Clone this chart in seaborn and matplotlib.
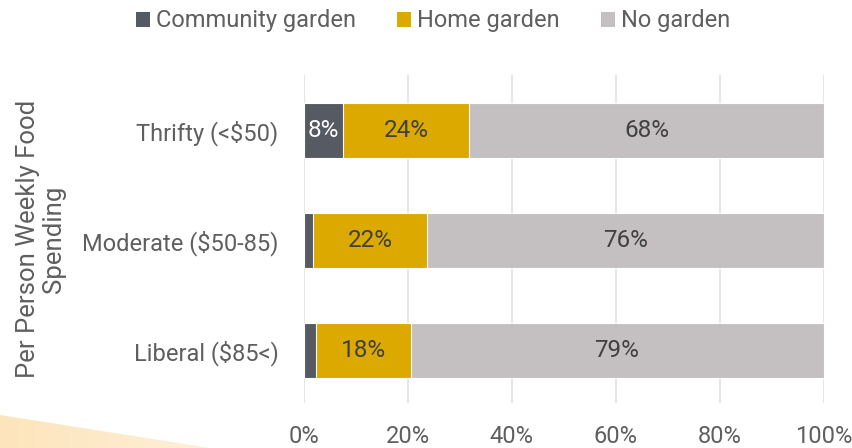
import numpy as np
import pandas as pd
import matplotlib
matplotlib.use("Agg")
import matplotlib.pyplot as plt
from matplotlib.patches import Polygon
from matplotlib.colors import LinearSegmentedColormap
import seaborn as sns

categories = ["Thrifty (<$50)", "Moderate ($50-85)", "Liberal ($85<)"]
community = [7.6, 1.9, 2.4]
home = [24.3, 21.8, 18.2]
no_garden = [68.1, 76.3, 79.4]
series_names = ["Community garden", "Home garden", "No garden"]
colors = ["#555a63", "#dba900", "#c4bfc0"]
xticks = [0, 20, 40, 60, 80, 100]

sns.set_theme(style="white")
plt.rcParams["font.family"] = ["Roboto", "DejaVu Sans"]
text_color = "#5f5f5f"

df = pd.DataFrame({"category": categories,
                   "Community garden": community,
                   "Home garden": home,
                   "No garden": no_garden})
df["cum1"] = df["Community garden"]
df["cum2"] = df["cum1"] + df["Home garden"]
df["cum3"] = df["cum2"] + df["No garden"]

fig = plt.figure(figsize=(8.52, 4.48), dpi=100)

# decorative wedge in the lower-left corner
bg = fig.add_axes([0, 0, 1, 1], zorder=-5)
bg.set_xlim(0, 852)
bg.set_ylim(448, 0)
bg.axis("off")
grad = np.linspace(0, 1, 256).reshape(1, -1)
cmap = LinearSegmentedColormap.from_list("peach", ["#fde4bb", "#fff0d8"])
im = bg.imshow(grad, cmap=cmap, extent=[0, 215, 448, 414], aspect="auto")
wedge = Polygon([[0, 415], [210, 448], [0, 448]], closed=True,
                facecolor="none", edgecolor="none")
bg.add_patch(wedge)
im.set_clip_path(wedge)

ax = fig.add_axes([303.5 / 852, 1 - 403 / 448, 520 / 852, 328 / 448])

# stacked bars drawn back to front from cumulative totals
for col, color in zip(["cum3", "cum2", "cum1"], colors[::-1]):
    sns.barplot(data=df, x=col, y="category", orient="h", color=color,
                width=0.5, edgecolor="white", linewidth=0.8,
                saturation=1, ax=ax, zorder=3)

# value labels
starts = [np.zeros(3), df["cum1"].values, df["cum2"].values]
vals = [df["Community garden"].values, df["Home garden"].values,
        df["No garden"].values]
for s, (st, v) in enumerate(zip(starts, vals)):
    for i in range(3):
        if v[i] < 5:
            continue
        ax.text(st[i] + v[i] / 2, i, f"{v[i]:.0f}%", ha="center",
                va="center", fontsize=17.5,
                color="white" if s == 0 else "#404040", zorder=5)

ax.set_xlim(0, 100)
ax.set_ylim(2.48, -0.5)
ax.set_xticks(xticks)
ax.set_xticklabels([f"{t}%" for t in xticks])
ax.grid(axis="x", color="#e6e6e6", linewidth=1.5, zorder=0)
ax.set_axisbelow(True)
for sp in ax.spines.values():
    sp.set_visible(False)
ax.tick_params(axis="both", length=0, labelsize=17, colors=text_color)
ax.tick_params(axis="x", pad=16)
ax.tick_params(axis="y", pad=18)
ax.set_xlabel("")
ax.set_ylabel("")
fig.text(41 / 852, 1 - 239 / 448, "Per Person Weekly Food\nSpending",
         rotation=90, ha="center", va="center", fontsize=18.5,
         color=text_color, linespacing=1.1)

handles = [plt.Rectangle((0, 0), 1, 1, facecolor=c, edgecolor="none")
           for c in colors]
fig.legend(handles, series_names, loc="center", ncol=3,
           bbox_to_anchor=(433 / 852, 1 - 21 / 448), frameon=False,
           prop={"size": 17}, labelcolor=text_color,
           handlelength=0.6, handleheight=0.6, handletextpad=0.25,
           columnspacing=1.75)

fig.savefig("out.png", dpi=100)
